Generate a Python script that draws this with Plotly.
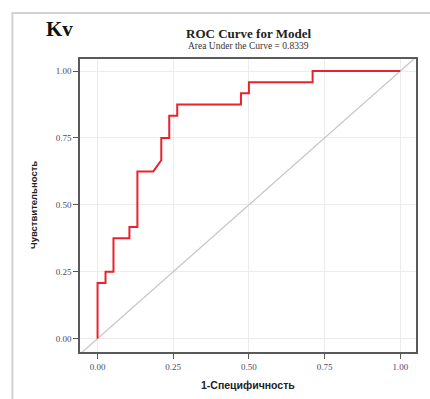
import plotly.graph_objects as go

# ROC curve points (1 - specificity, sensitivity)
fpr = [0.0, 0.0, 0.0263, 0.0263, 0.0526, 0.0526, 0.1053, 0.1053, 0.1316, 0.1316,
       0.1842, 0.2105, 0.2105, 0.2368, 0.2368, 0.2632, 0.2632, 0.4737, 0.4737,
       0.5, 0.5, 0.7105, 0.7105, 1.0]
tpr = [0.0, 0.2083, 0.2083, 0.25, 0.25, 0.375, 0.375, 0.4167, 0.4167, 0.625,
       0.625, 0.6667, 0.75, 0.75, 0.8333, 0.8333, 0.875, 0.875, 0.9167,
       0.9167, 0.9583, 0.9583, 1.0, 1.0]
ref_x = [-0.2, 1.2]
ref_y = [-0.2, 1.2]
tick_vals = [0.0, 0.25, 0.5, 0.75, 1.0]
tick_text = ["0.00", "0.25", "0.50", "0.75", "1.00"]
auc_text = "Area Under the Curve = 0.8339"

W, H = 430, 399
ml, mr, mt, mb = 80, 12, 59, 46.5
pw = W - ml - mr
ph = H - mt - mb

def px2paper_x(px):
    return (px - ml) / pw

def py2paper_y(py):
    return (H - mb - py) / ph

fig = go.Figure()
fig.add_trace(go.Scatter(x=ref_x, y=ref_y, mode="lines",
                         line=dict(color="#c4c4c4", width=1.2), hoverinfo="skip"))
fig.add_trace(go.Scatter(x=fpr, y=tpr, mode="lines",
                         line=dict(color="#e8232d", width=2)))

tickfont = dict(family="Liberation Serif", size=9, color="#4a4a6a")
axis_common = dict(
    showline=True, linecolor="#5a5a5a", linewidth=1.5, mirror=True,
    showgrid=True, gridcolor="#ececec", gridwidth=1,
    zeroline=False, ticks="outside", ticklen=5, tickcolor="#5a5a5a",
    tickvals=tick_vals, ticktext=tick_text, tickfont=tickfont,
)
fig.update_xaxes(range=[-0.058, 1.052], **axis_common)
fig.update_yaxes(range=[-0.050, 1.045], **axis_common)

annotations = [
    dict(text="<b>Kv</b>", x=px2paper_x(44), y=py2paper_y(29), xanchor="left", yanchor="middle",
         font=dict(family="Liberation Serif", size=21, color="#111111")),
    dict(text="<b>ROC Curve for Model</b>", x=0.5, y=py2paper_y(33), xanchor="center", yanchor="middle",
         font=dict(family="Liberation Serif", size=13, color="#222222")),
    dict(text=auc_text, x=0.5, y=py2paper_y(46), xanchor="center", yanchor="middle",
         font=dict(family="Liberation Serif", size=9.5, color="#333333")),
    dict(text="<b>Чувствительность</b>", x=px2paper_x(33), y=py2paper_y(205), xanchor="center",
         yanchor="middle", textangle=-90,
         font=dict(family="Liberation Sans", size=9.5, color="#222222")),
    dict(text="<b>1-Специфичность</b>", x=0.5, y=py2paper_y(386), xanchor="center", yanchor="middle",
         font=dict(family="Liberation Sans", size=10.5, color="#222222")),
]
for a in annotations:
    a.update(xref="paper", yref="paper", showarrow=False)

fig.update_layout(
    width=W, height=H,
    margin=dict(l=ml, r=mr, t=mt, b=mb),
    plot_bgcolor="white", paper_bgcolor="white",
    showlegend=False,
    annotations=annotations,
    shapes=[dict(type="rect", xref="paper", yref="paper",
                 x0=px2paper_x(12), x1=px2paper_x(440),
                 y0=py2paper_y(410), y1=py2paper_y(13),
                 line=dict(color="#d2d2d2", width=2), fillcolor="rgba(0,0,0,0)", layer="below")],
)

fig.write_html("out.html")
